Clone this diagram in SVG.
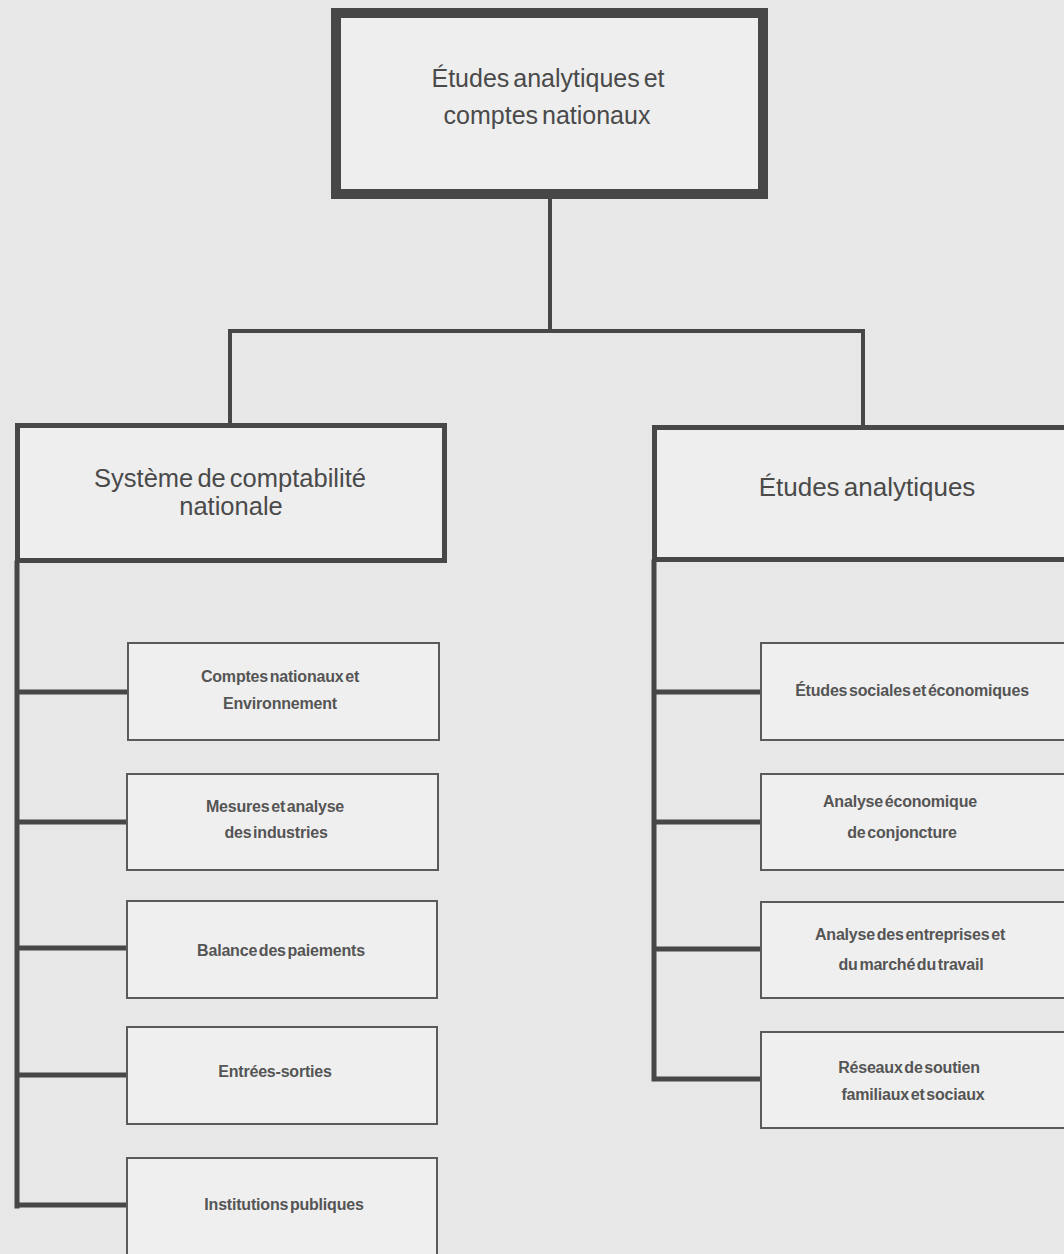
<svg xmlns="http://www.w3.org/2000/svg" width="1064" height="1254" viewBox="0 0 1064 1254">
<style>
.bg{fill:#e7e7e7}
.main{fill:#eeeeee;stroke:#474747}
.child{fill:#efefef;stroke:#5a5a5a;stroke-width:2}
.conn{stroke:#474747;fill:none;stroke-linecap:square}
text{font-family:"Liberation Sans",Arial,sans-serif;fill:#4a4a4a;text-anchor:middle;word-spacing:-3px}
.t1{font-size:25px}
.t2{font-size:25.5px}
.t3{font-size:26px}
.c{font-size:16px;font-weight:bold;fill:#555555;letter-spacing:-0.2px;word-spacing:-2.5px}
</style>
<rect class="bg" x="0" y="0" width="1064" height="1254"/>
<g id="connectors">
<path class="conn" stroke-width="4" d="M550 199 V331 M230 331 H863 M230 331 V424 M863 331 V426"/>
<path class="conn" stroke-width="5" d="M17 563 V1206 M17 692 H128 M17 822 H127 M17 948 H127 M17 1075 H127 M17 1205 H127"/>
<path class="conn" stroke-width="5" d="M654 562 V1079 M654 692 H761 M654 822 H761 M654 949 H761 M654 1079 H761"/>
</g>
<g id="n-top">
<rect class="main" x="336" y="13" width="427" height="181" stroke-width="10"/>
<text class="t1" x="548" y="87">Études analytiques et</text>
<text class="t1" x="547" y="124">comptes nationaux</text>
</g>
<g id="n-scn">
<rect class="main" x="17.5" y="425.5" width="427" height="135" stroke-width="5"/>
<text class="t2" x="230" y="487">Système de comptabilité</text>
<text class="t2" x="231" y="515">nationale</text>
</g>
<g id="n-ea">
<rect class="main" x="654.5" y="427.5" width="430" height="132" stroke-width="5"/>
<text class="t3" x="867" y="496">Études analytiques</text>
</g>
<g id="n-l1">
<rect class="child" x="128" y="643" width="311" height="97"/>
<text class="c" x="280" y="682">Comptes nationaux et</text>
<text class="c" x="280" y="709">Environnement</text>
</g>
<g id="n-l2">
<rect class="child" x="127" y="774" width="311" height="96"/>
<text class="c" x="275" y="812">Mesures et analyse</text>
<text class="c" x="276" y="838">des industries</text>
</g>
<g id="n-l3">
<rect class="child" x="127" y="901" width="310" height="97"/>
<text class="c" x="281" y="956">Balance des paiements</text>
</g>
<g id="n-l4">
<rect class="child" x="127" y="1027" width="310" height="97"/>
<text class="c" x="275" y="1077">Entrées-sorties</text>
</g>
<g id="n-l5">
<rect class="child" x="127" y="1158" width="310" height="110"/>
<text class="c" x="284" y="1210">Institutions publiques</text>
</g>
<g id="n-r1">
<rect class="child" x="761" y="643" width="320" height="97"/>
<text class="c" x="912" y="696">Études sociales et économiques</text>
</g>
<g id="n-r2">
<rect class="child" x="761" y="774" width="320" height="96"/>
<text class="c" x="900" y="807">Analyse économique</text>
<text class="c" x="902" y="838">de conjoncture</text>
</g>
<g id="n-r3">
<rect class="child" x="761" y="902" width="320" height="96"/>
<text class="c" x="910" y="940">Analyse des entreprises et</text>
<text class="c" x="911" y="970">du marché du travail</text>
</g>
<g id="n-r4">
<rect class="child" x="761" y="1032" width="320" height="96"/>
<text class="c" x="909" y="1073">Réseaux de soutien</text>
<text class="c" x="913" y="1100">familiaux et sociaux</text>
</g>
</svg>
